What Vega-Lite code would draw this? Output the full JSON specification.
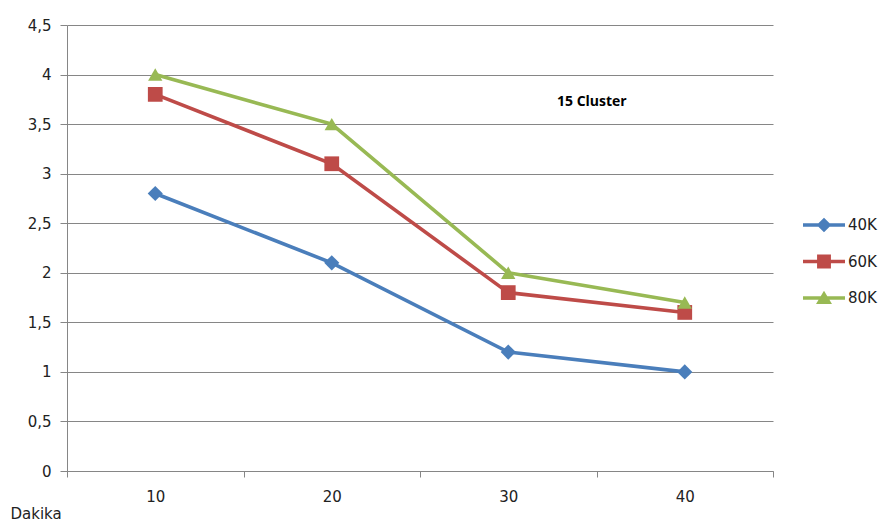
{
  "$schema": "https://vega.github.io/schema/vega-lite/v6.json",
  "width": 706,
  "height": 446,
  "autosize": "none",
  "padding": {"left": 67, "top": 25, "right": 120, "bottom": 58},
  "background": "#ffffff",
  "title": {
    "text": "15 Cluster",
    "orient": "top",
    "anchor": "start",
    "frame": "group",
    "offset": 0,
    "align": "left",
    "baseline": "middle",
    "dx": 490,
    "dy": 98,
    "font": "Open Sans",
    "fontSize": 14,
    "fontWeight": "bold",
    "color": "#000000"
  },
  "data": {
    "values": [
      {"dakika": "10", "seri": "40K", "deger": 2.8},
      {"dakika": "20", "seri": "40K", "deger": 2.1},
      {"dakika": "30", "seri": "40K", "deger": 1.2},
      {"dakika": "40", "seri": "40K", "deger": 1.0},
      {"dakika": "10", "seri": "60K", "deger": 3.8},
      {"dakika": "20", "seri": "60K", "deger": 3.1},
      {"dakika": "30", "seri": "60K", "deger": 1.8},
      {"dakika": "40", "seri": "60K", "deger": 1.6},
      {"dakika": "10", "seri": "80K", "deger": 4.0},
      {"dakika": "20", "seri": "80K", "deger": 3.5},
      {"dakika": "30", "seri": "80K", "deger": 2.0},
      {"dakika": "40", "seri": "80K", "deger": 1.7}
    ]
  },
  "encoding": {
    "x": {
      "field": "dakika",
      "type": "ordinal",
      "scale": {"paddingInner": 0, "paddingOuter": 0},
      "axis": {
        "title": "Dakika",
        "titleX": -57,
        "titleY": 42,
        "titleAlign": "left",
        "titleAnchor": "start",
        "titleBaseline": "middle",
        "titleFont": "DejaVu Sans",
        "titleFontSize": 15,
        "titleFontWeight": "normal",
        "titleColor": "#222222",
        "labelAngle": 0,
        "labelFont": "DejaVu Sans",
        "labelFontSize": 15,
        "labelColor": "#222222",
        "labelPadding": 12,
        "tickBand": "extent",
        "tickSize": 6,
        "tickColor": "#868686",
        "domainColor": "#868686",
        "grid": false
      }
    },
    "y": {
      "field": "deger",
      "type": "quantitative",
      "scale": {"domain": [0, 4.5], "nice": false, "zero": true},
      "axis": {
        "title": null,
        "values": [0, 0.5, 1, 1.5, 2, 2.5, 3, 3.5, 4, 4.5],
        "labelExpr": "replace(format(datum.value, '~g'), '.', ',')",
        "labelFont": "DejaVu Sans",
        "labelFontSize": 15,
        "labelColor": "#222222",
        "labelPadding": 9,
        "tickSize": 7,
        "tickColor": "#868686",
        "domainColor": "#868686",
        "grid": true,
        "gridColor": "#868686",
        "gridWidth": 1
      }
    }
  },
  "layer": [
    {
      "mark": {"type": "line", "strokeWidth": 3.6},
      "encoding": {
        "color": {
          "field": "seri",
          "type": "nominal",
          "scale": {"domain": ["40K", "60K", "80K"], "range": ["#4A7EBB", "#BE4B48", "#98B954"]},
          "legend": null
        }
      }
    },
    {
      "mark": {"type": "point", "filled": true, "opacity": 1},
      "encoding": {
        "color": {
          "field": "seri",
          "type": "nominal",
          "scale": {"domain": ["40K", "60K", "80K"], "range": ["#4A7EBB", "#BE4B48", "#98B954"]},
          "legend": null
        },
        "shape": {
          "field": "seri",
          "type": "nominal",
          "scale": {"domain": ["40K", "60K", "80K"], "range": ["diamond", "square", "triangle-up"]},
          "legend": null
        },
        "size": {
          "field": "seri",
          "type": "nominal",
          "scale": {"domain": ["40K", "60K", "80K"], "range": [230, 205, 260]},
          "legend": null
        }
      }
    },
    {
      "transform": [{"filter": "false"}],
      "mark": {"type": "point", "filled": true, "opacity": 1, "strokeWidth": 0},
      "encoding": {
        "color": {
          "field": "seri",
          "type": "nominal",
          "scale": {"domain": ["40K", "60K", "80K"], "range": ["#4A7EBB", "#BE4B48", "#98B954"]},
          "legend": {
            "title": null,
            "orient": "none",
            "legendX": 736,
            "legendY": 179,
            "padding": 0,
            "rowPadding": 7.5,
            "symbolSize": 1764,
            "symbolStrokeWidth": 0,
            "labelOffset": 3,
            "labelFont": "DejaVu Sans",
            "labelFontSize": 15,
            "labelColor": "#222222"
          }
        },
        "shape": {
          "field": "seri",
          "type": "nominal",
          "scale": {
            "domain": ["40K", "60K", "80K"],
            "range": [
              "M-1,-0.08H1V0.08H-1Z M0,-0.35L0.35,0L0,0.35L-0.35,0Z",
              "M-1,-0.08H1V0.08H-1Z M-0.33,-0.33H0.33V0.33H-0.33Z",
              "M-1,-0.08H1V0.08H-1Z M0,-0.34L0.38,0.28H-0.38Z"
            ]
          },
          "legend": null
        }
      }
    }
  ],
  "resolve": {"scale": {"color": "independent", "shape": "independent", "size": "independent"}},
  "config": {
    "view": {"stroke": null}
  }
}
